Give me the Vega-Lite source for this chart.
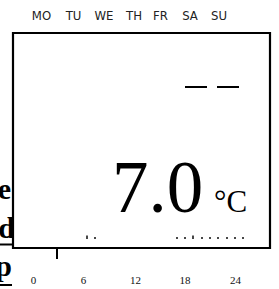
{
  "$schema": "https://vega.github.io/schema/vega-lite/v6.json",
  "width": 279,
  "height": 289,
  "padding": 0,
  "autosize": "none",
  "background": "white",
  "config": {"view": {"stroke": null}},
  "layer": [
    {
      "data": {"values": [
        {"px": 11, "py": 199, "t": "e"},
        {"px": 15, "py": 238, "t": "ld"},
        {"px": 12, "py": 276, "t": "p"}
      ]},
      "mark": {"type": "text", "align": "right", "baseline": "alphabetic", "font": "Liberation Serif", "fontWeight": "bold", "fontSize": 30, "color": "black"},
      "encoding": {
        "x": {"field": "px", "type": "quantitative", "scale": {"domain": [0, 279], "nice": false, "zero": false}, "axis": null},
        "y": {"field": "py", "type": "quantitative", "scale": {"domain": [0, 289], "reverse": true, "nice": false, "zero": false}, "axis": null},
        "text": {"field": "t"}
      }
    },
    {
      "data": {"values": [
        {"x1": 0, "x2": 12, "py": 244.5},
        {"x1": 0, "x2": 12, "py": 285}
      ]},
      "mark": {"type": "rule", "strokeWidth": 2, "color": "black"},
      "encoding": {
        "x": {"field": "x1", "type": "quantitative"},
        "x2": {"field": "x2"},
        "y": {"field": "py", "type": "quantitative"}
      }
    },
    {
      "data": {"values": [{"x1": 13, "x2": 270, "y1": 33, "y2": 248}]},
      "mark": {"type": "rect", "fill": "white", "stroke": "black", "strokeWidth": 2.2},
      "encoding": {
        "x": {"field": "x1", "type": "quantitative"},
        "x2": {"field": "x2"},
        "y": {"field": "y1", "type": "quantitative"},
        "y2": {"field": "y2"}
      }
    },
    {
      "data": {"values": [
        {"px": 41.5, "t": "MO"}, {"px": 73.5, "t": "TU"}, {"px": 104, "t": "WE"},
        {"px": 134, "t": "TH"}, {"px": 160.5, "t": "FR"}, {"px": 190, "t": "SA"}, {"px": 219, "t": "SU"}
      ]},
      "mark": {"type": "text", "align": "center", "baseline": "alphabetic", "font": "Liberation Sans Narrow, Arial Narrow, DejaVu Sans Condensed, sans-serif", "fontSize": 13, "color": "#222"},
      "encoding": {
        "x": {"field": "px", "type": "quantitative"},
        "y": {"datum": 20, "type": "quantitative"},
        "text": {"field": "t"}
      }
    },
    {
      "data": {"values": [{"x1": 185, "x2": 207}, {"x1": 217, "x2": 239}]},
      "mark": {"type": "rule", "strokeWidth": 2, "color": "black"},
      "encoding": {
        "x": {"field": "x1", "type": "quantitative"},
        "x2": {"field": "x2"},
        "y": {"datum": 87, "type": "quantitative"}
      }
    },
    {
      "data": {"values": [{"px": 112, "t": "7.0"}]},
      "mark": {"type": "text", "align": "left", "baseline": "alphabetic", "font": "Liberation Serif", "fontSize": 73, "color": "black"},
      "encoding": {
        "x": {"field": "px", "type": "quantitative"},
        "y": {"datum": 212, "type": "quantitative"},
        "text": {"field": "t"}
      }
    },
    {
      "data": {"values": [{"px": 214, "t": "°C"}]},
      "mark": {"type": "text", "align": "left", "baseline": "alphabetic", "font": "Liberation Serif", "fontSize": 31, "color": "black"},
      "encoding": {
        "x": {"field": "px", "type": "quantitative"},
        "y": {"datum": 212, "type": "quantitative"},
        "text": {"field": "t"}
      }
    },
    {
      "data": {"values": [
        {"px": 87, "top": 235.5}, {"px": 95, "top": 237},
        {"px": 177, "top": 237}, {"px": 185, "top": 237}, {"px": 193, "top": 235.5},
        {"px": 202, "top": 237}, {"px": 210, "top": 237}, {"px": 218, "top": 237},
        {"px": 227, "top": 237}, {"px": 235, "top": 237}, {"px": 243, "top": 237}
      ]},
      "mark": {"type": "rule", "strokeWidth": 1.8, "color": "#333"},
      "encoding": {
        "x": {"field": "px", "type": "quantitative"},
        "y": {"field": "top", "type": "quantitative"},
        "y2": {"datum": 239}
      }
    },
    {
      "data": {"values": [{"px": 57}]},
      "mark": {"type": "rule", "strokeWidth": 2, "color": "black"},
      "encoding": {
        "x": {"field": "px", "type": "quantitative"},
        "y": {"datum": 249, "type": "quantitative"},
        "y2": {"datum": 259}
      }
    },
    {
      "data": {"values": [
        {"px": 33.5, "t": "0"}, {"px": 83.5, "t": "6"}, {"px": 135.5, "t": "12"},
        {"px": 185, "t": "18"}, {"px": 235.5, "t": "24"}
      ]},
      "mark": {"type": "text", "align": "center", "baseline": "alphabetic", "font": "Liberation Serif", "fontSize": 11, "color": "#111"},
      "encoding": {
        "x": {"field": "px", "type": "quantitative"},
        "y": {"datum": 284, "type": "quantitative"},
        "text": {"field": "t"}
      }
    }
  ]
}
